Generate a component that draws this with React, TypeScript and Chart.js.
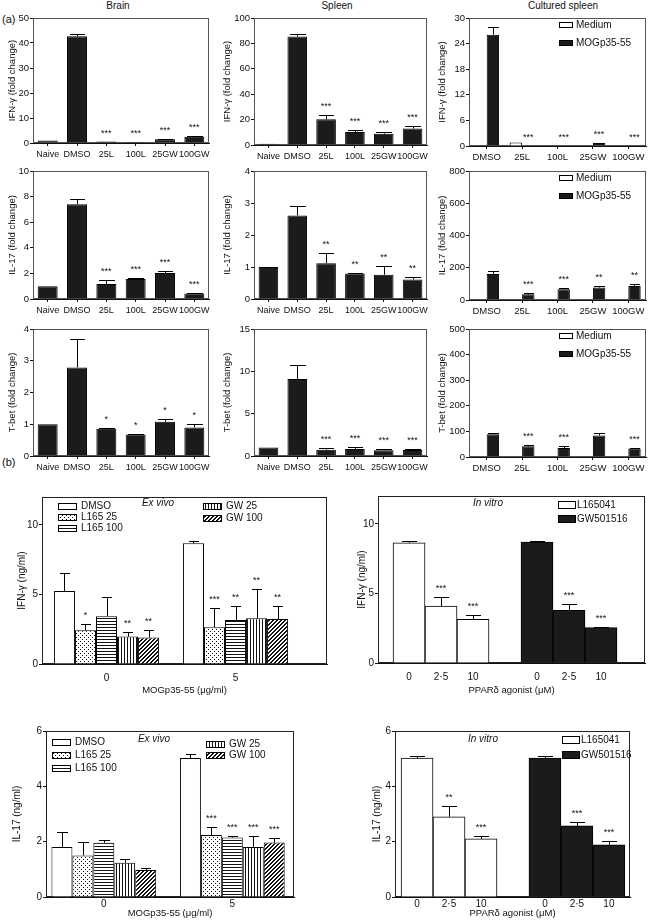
import React, { useEffect, useRef } from "react";
import { Chart, registerables } from "chart.js";

Chart.register(...registerables);

const FONT = "'Liberation Sans', Arial, Helvetica, sans-serif";
Chart.defaults.font.family = FONT;
Chart.defaults.color = "#111";

// ---------------- DATA ----------------
const tissueGroups = ["Naive", "DMSO", "25L", "100L", "25GW", "100GW"];
const culturedGroups = ["DMSO", "25L", "100L", "25GW", "100GW"];

// Brain
const brainIfn = [1, 42.7, 0.6, 0.4, 1.5, 2.5];
const brainIfnErr = [0, 0.7, 0, 0, 0.3, 0.5];
const brainIfnSig = ["", "", "***", "***", "***", "***"];
const brainIl17 = [1, 7.4, 1.17, 1.56, 2.03, 0.42];
const brainIl17Err = [0, 0.4, 0.28, 0.08, 0.15, 0.06];
const brainIl17Sig = ["", "", "***", "***", "***", "***"];
const brainTbet = [1, 2.79, 0.855, 0.675, 1.08, 0.9];
const brainTbetErr = [0, 0.9, 0.03, 0.03, 0.1, 0.11];
const brainTbetSig = ["", "", "*", "*", "*", "*"];

// Spleen
const spleenIfn = [1, 85.5, 20.3, 10.3, 8.9, 12.9];
const spleenIfnErr = [0, 1.8, 3.4, 1.5, 1.6, 2.1];
const spleenIfnSig = ["", "", "***", "***", "***", "***"];
const spleenIl17 = [1, 2.61, 1.12, 0.8, 0.76, 0.61];
const spleenIl17Err = [0, 0.3, 0.33, 0.02, 0.28, 0.08];
const spleenIl17Sig = ["", "", "**", "**", "**", "**"];
const spleenTbet = [1, 9.1, 0.75, 0.83, 0.67, 0.71];
const spleenTbetErr = [0, 1.66, 0.2, 0.24, 0.16, 0.16];
const spleenTbetSig = ["", "", "***", "***", "***", "***"];

// Cultured spleen
const cultIfnMedium = [0, 0.8, 0, 0, 0];
const cultIfnMog = [26.1, 0, 0, 0.7, 0];
const cultIfnMogErr = [1.8, 0, 0, 0.1, 0];
const cultIfnSig = ["", "***", "***", "***", "***"];
const cultIl17Medium = [0, 0, 0, 0, 0];
const cultIl17Mog = [161, 35, 66, 78, 87];
const cultIl17MogErr = [21, 10, 10, 8, 10];
const cultIl17Sig = ["", "***", "***", "**", "**"];
const cultTbetMedium = [0, 0, 0, 0, 0];
const cultTbetMog = [89, 42, 35, 84, 33];
const cultTbetMogErr = [3, 3, 8, 8, 2];
const cultTbetSig = ["", "***", "***", "", "***"];

// (b) ex vivo, MOGp35-55 doses
const mogDoses = ["0", "5"];
const exVivoSeries = ["DMSO", "L165 25", "L165 100", "GW 25", "GW 100"];
const exIfnDmso = [5.25, 8.67];
const exIfnDmsoErr = [1.3, 0.17];
const exIfnDmsoSig = ["", ""];
const exIfnL25 = [2.42, 2.64];
const exIfnL25Err = [0.45, 1.4];
const exIfnL25Sig = ["*", "***"];
const exIfnL100 = [3.44, 3.16];
const exIfnL100Err = [1.38, 1.0];
const exIfnL100Sig = ["", "**"];
const exIfnG25 = [1.97, 3.28];
const exIfnG25Err = [0.36, 2.14];
const exIfnG25Sig = ["**", "**"];
const exIfnG100 = [1.9, 3.23];
const exIfnG100Err = [0.52, 0.93];
const exIfnG100Sig = ["**", "**"];

const exIl17Dmso = [1.81, 5.02];
const exIl17DmsoErr = [0.55, 0.15];
const exIl17DmsoSig = ["", ""];
const exIl17L25 = [1.5, 2.24];
const exIl17L25Err = [0.48, 0.3];
const exIl17L25Sig = ["", "***"];
const exIl17L100 = [1.96, 2.15];
const exIl17L100Err = [0.11, 0.07];
const exIl17L100Sig = ["", "***"];
const exIl17G25 = [1.24, 1.81];
const exIl17G25Err = [0.14, 0.4];
const exIl17G25Sig = ["", "***"];
const exIl17G100 = [0.98, 1.97];
const exIl17G100Err = [0.08, 0.16];
const exIl17G100Sig = ["", "***"];

// (b) in vitro, PPARδ agonist doses
const agonistDoses = ["0", "2·5", "10"];
const agonistSeries = ["L165041", "GW501516"];
const viIfnL = [8.64, 4.09, 3.13];
const viIfnLErr = [0.1, 0.62, 0.34];
const viIfnLSig = ["", "***", "***"];
const viIfnG = [8.68, 3.78, 2.54];
const viIfnGErr = [0.08, 0.48, 0.05];
const viIfnGSig = ["", "***", "***"];
const viIl17L = [5.02, 2.9, 2.1];
const viIl17LErr = [0.08, 0.4, 0.12];
const viIl17LSig = ["", "**", "***"];
const viIl17G = [5.02, 2.57, 1.89];
const viIl17GErr = [0.08, 0.14, 0.14];
const viIl17GSig = ["", "***", "***"];

// ---------------- STYLE HELPERS ----------------
const BLACK = "#1b1b1b";
const INK = "#111";

type Frame = { l: number; t: number; r: number; b: number };
type Layout = {
  frame: Frame;
  yTitleX: number;
  titleSize: number;
  xAxisH: number;
  padTop: number;
  padRight: number;
  xLabelPad?: number;
};

function geometry(L: Layout) {
  const lh = L.titleSize * 1.2;
  const left = Math.round(L.yTitleX - lh / 2);
  const top = L.frame.t - L.padTop;
  return {
    left,
    top,
    width: L.frame.r + L.padRight - left,
    height: L.frame.b + L.xAxisH - top,
    axisW: L.frame.l - left,
  };
}

function makePattern(kind: string): any {
  const c = document.createElement("canvas");
  const n = kind === "dots" ? 4 : kind === "diag" ? 4 : 3;
  c.width = n;
  c.height = n;
  const g = c.getContext("2d") as CanvasRenderingContext2D;
  g.fillStyle = "#fff";
  g.fillRect(0, 0, n, n);
  g.fillStyle = INK;
  if (kind === "dots") {
    g.fillRect(0, 0, 1, 1);
    g.fillRect(2, 2, 1, 1);
  } else if (kind === "hlines") {
    g.fillRect(0, 0, n, 1);
  } else if (kind === "vlines") {
    g.fillRect(0, 0, 1, n);
  } else if (kind === "diag") {
    for (let i = 0; i < n; i++) {
      g.fillRect(i, n - 1 - i, 1, 1);
      g.fillRect((i + 1) % n, n - 1 - i, 1, 1);
    }
  }
  return g.createPattern(c, "repeat");
}

type LegendItem = { label: string; fill: any; dx: number; dy: number };
type DecorSpec = {
  frameColor: string;
  capRatio: number;
  starFont: number;
  starGap: number;
  legend?: { items: LegendItem[]; boxW: number; boxH: number; gap: number; font: number };
  note?: { text: string; dx: number; dy: number; font: number };
};

function decor(spec: DecorSpec) {
  return {
    id: "decor",
    beforeDatasetsDraw(chart: any) {
      const { ctx, chartArea: a } = chart;
      ctx.save();
      ctx.strokeStyle = spec.frameColor;
      ctx.lineWidth = 1;
      ctx.strokeRect(
        Math.round(a.left) + 0.5,
        Math.round(a.top) + 0.5,
        Math.round(a.right - a.left) - 1,
        Math.round(a.bottom - a.top) - 1
      );
      ctx.restore();
    },
    afterDatasetsDraw(chart: any) {
      const { ctx, chartArea: a, scales } = chart;
      const ys = scales.y;
      ctx.save();
      ctx.strokeStyle = "#000";
      ctx.fillStyle = INK;
      ctx.lineWidth = 1;
      chart.data.datasets.forEach((ds: any, di: number) => {
        const meta = chart.getDatasetMeta(di);
        meta.data.forEach((el: any, j: number) => {
          const v = meta.controller.getParsed(j).y;
          const e = ds.errors ? ds.errors[j] || 0 : 0;
          const topPx = ys.getPixelForValue(v + e);
          if (e > 0) {
            const x = Math.round(el.x) + 0.5;
            const yy = Math.round(topPx) + 0.5;
            const half = (el.width * spec.capRatio) / 2;
            ctx.beginPath();
            ctx.moveTo(x, el.y);
            ctx.lineTo(x, yy);
            ctx.moveTo(Math.round(el.x - half), yy);
            ctx.lineTo(Math.round(el.x + half) + 1, yy);
            ctx.stroke();
          }
          if (ds.stars && ds.stars[j]) {
            ctx.font = `${spec.starFont}px ${FONT}`;
            ctx.textAlign = "center";
            ctx.textBaseline = "alphabetic";
            ctx.fillText(ds.stars[j], el.x, topPx - spec.starGap);
          }
        });
      });
      if (spec.legend) {
        const L = spec.legend;
        ctx.font = `${L.font}px ${FONT}`;
        ctx.textAlign = "left";
        ctx.textBaseline = "middle";
        L.items.forEach((it) => {
          const bx = Math.round(a.left + it.dx);
          const by = Math.round(a.top + it.dy - L.boxH / 2);
          ctx.fillStyle = it.fill;
          ctx.fillRect(bx, by, L.boxW, L.boxH);
          ctx.strokeStyle = "#000";
          ctx.strokeRect(bx + 0.5, by + 0.5, L.boxW - 1, L.boxH - 1);
          ctx.fillStyle = INK;
          ctx.fillText(it.label, bx + L.boxW + L.gap, a.top + it.dy + 0.5);
        });
      }
      if (spec.note) {
        ctx.font = `italic ${spec.note.font}px ${FONT}`;
        ctx.textAlign = "center";
        ctx.textBaseline = "middle";
        ctx.fillStyle = INK;
        ctx.fillText(spec.note.text, a.left + spec.note.dx, a.top + spec.note.dy);
      }
      ctx.restore();
    },
  };
}

function yAxis(L: Layout, axisW: number, max: number, step: number, title: string, tickSize: number) {
  return {
    type: "linear",
    min: 0,
    max,
    ticks: { stepSize: step, includeBounds: false, font: { size: tickSize }, color: INK, padding: 1 },
    grid: { display: true, drawOnChartArea: false, drawTicks: true, tickLength: 3, color: INK },
    border: { display: true, color: INK, width: 1 },
    title: { display: true, text: title, font: { size: L.titleSize }, color: INK, padding: 0 },
    afterFit: (s: any) => {
      s.width = axisW;
      s.paddingTop = 0;
      s.paddingBottom = 0;
    },
  };
}

function categoryX(L: Layout, size: number) {
  return {
    type: "category",
    offset: true,
    ticks: { font: { size }, color: INK, padding: 3, autoSkip: false, maxRotation: 0 },
    grid: { display: true, drawOnChartArea: false, drawTicks: true, tickLength: 3, offset: false, color: INK },
    border: { display: true, color: INK, width: 1 },
    afterFit: (s: any) => {
      s.height = L.xAxisH;
      s.paddingLeft = 0;
      s.paddingRight = 0;
    },
  };
}

function linearX(L: Layout, min: number, max: number, tickValues: number[], tickLabels: string[], title: string) {
  return {
    type: "linear",
    min,
    max,
    offset: false,
    afterBuildTicks: (s: any) => {
      s.ticks = tickValues.map((v) => ({ value: v }));
    },
    ticks: {
      callback: (_v: any, i: number) => tickLabels[i],
      font: { size: 10 },
      color: INK,
      padding: L.xLabelPad ?? 8,
      autoSkip: false,
      maxRotation: 0,
    },
    grid: { display: true, drawOnChartArea: false, drawTicks: false, offset: false, color: INK },
    border: { display: true, color: INK, width: 1 },
    title: { display: true, text: title, font: { size: 9.5 }, color: INK, padding: 0 },
    afterFit: (s: any) => {
      s.height = L.xAxisH;
      s.paddingLeft = 0;
      s.paddingRight = 0;
    },
  };
}

function baseOptions(L: Layout, x: any, y: any) {
  return {
    animation: false,
    responsive: false,
    maintainAspectRatio: false,
    devicePixelRatio: 1,
    events: [],
    layout: { padding: { top: L.padTop, right: L.padRight, left: 0, bottom: 0 } },
    plugins: { legend: { display: false }, tooltip: { enabled: false }, title: { display: false } },
    scales: { x, y },
  };
}

// ---------------- CHART BUILDERS ----------------
function tissueChart(L: Layout, axisW: number, values: number[], errors: number[], stars: string[], yMax: number, yStep: number, yTitle: string) {
  return {
    type: "bar",
    data: {
      labels: tissueGroups,
      datasets: [
        {
          data: values,
          errors,
          stars,
          backgroundColor: BLACK,
          borderColor: "#000",
          borderWidth: 1,
          barPercentage: 0.68,
          categoryPercentage: 1,
        },
      ],
    },
    options: baseOptions(L, categoryX(L, 9), yAxis(L, axisW, yMax, yStep, yTitle, 9.5)),
    plugins: [decor({ frameColor: "#555", capRatio: 0.75, starFont: 9, starGap: 6 })],
  };
}

function culturedChart(L: Layout, axisW: number, medium: number[], mog: number[], errors: number[], stars: string[], yMax: number, yStep: number, yTitle: string) {
  return {
    type: "bar",
    data: {
      labels: culturedGroups,
      datasets: [
        { label: "Medium", data: medium, backgroundColor: "#fff", borderColor: "#000", borderWidth: 1, barPercentage: 1, categoryPercentage: 0.7 },
        { label: "MOGp35-55", data: mog, errors, stars, backgroundColor: BLACK, borderColor: "#000", borderWidth: 1, barPercentage: 1, categoryPercentage: 0.7 },
      ],
    },
    options: baseOptions(L, categoryX(L, 9.5), yAxis(L, axisW, yMax, yStep, yTitle, 9.5)),
    plugins: [
      decor({
        frameColor: "#555",
        capRatio: 0.75,
        starFont: 9,
        starGap: 6,
        legend: {
          items: [
            { label: "Medium", fill: "#fff", dx: 90, dy: 7 },
            { label: "MOGp35-55", fill: BLACK, dx: 90, dy: 25 },
          ],
          boxW: 14,
          boxH: 6,
          gap: 3,
          font: 10,
        },
      }),
    ],
  };
}

type Series = { values: number[]; errors: number[]; stars: string[] };

function exVivoChart(L: Layout, axisW: number, series: Series[], xRange: number[], yMax: number, yStep: number, yTitle: string, legendPos: number[][], notePos: number[]) {
  const fills = ["#fff", makePattern("dots"), makePattern("hlines"), makePattern("vlines"), makePattern("diag")];
  const pos = mogDoses.map((_, i) => i);
  return {
    type: "bar",
    data: {
      datasets: series.map((s, k) => ({
        label: exVivoSeries[k],
        data: s.values.map((v, i) => ({ x: pos[i], y: v })),
        errors: s.errors,
        stars: s.stars,
        backgroundColor: fills[k],
        borderColor: "#000",
        borderWidth: 1,
        barPercentage: 1,
        categoryPercentage: 0.815,
      })),
    },
    options: baseOptions(
      L,
      linearX(L, xRange[0], xRange[1], pos, mogDoses, "MOGp35-55 (μg/ml)"),
      yAxis(L, axisW, yMax, yStep, yTitle, 10)
    ),
    plugins: [
      decor({
        frameColor: "#222",
        capRatio: 0.45,
        starFont: 9,
        starGap: 6,
        legend: {
          items: exVivoSeries.map((name, k) => ({ label: name, fill: fills[k], dx: legendPos[k][0], dy: legendPos[k][1] })),
          boxW: 19,
          boxH: 7,
          gap: 4,
          font: 10,
        },
        note: { text: "Ex vivo", dx: notePos[0], dy: notePos[1], font: 10 },
      }),
    ],
  };
}

function inVitroChart(L: Layout, axisW: number, series: Series[], xRange: number[], yMax: number, yStep: number, yTitle: string, legendPos: number[][], notePos: number[]) {
  const fills = ["#fff", BLACK];
  const gap = agonistDoses.length + 1;
  const tickValues: number[] = [];
  const tickLabels: string[] = [];
  series.forEach((_, k) =>
    agonistDoses.forEach((d, i) => {
      tickValues.push(i + k * gap);
      tickLabels.push(d);
    })
  );
  return {
    type: "bar",
    data: {
      datasets: series.map((s, k) => ({
        label: agonistSeries[k],
        data: s.values.map((v, i) => ({ x: i + k * gap, y: v })),
        errors: s.errors,
        stars: s.stars,
        backgroundColor: fills[k],
        borderColor: "#000",
        borderWidth: 1,
        barPercentage: 1,
        categoryPercentage: 1,
        grouped: false,
      })),
    },
    options: baseOptions(
      L,
      linearX(L, xRange[0], xRange[1], tickValues, tickLabels, "PPARδ agonist (μM)"),
      yAxis(L, axisW, yMax, yStep, yTitle, 10)
    ),
    plugins: [
      decor({
        frameColor: "#222",
        capRatio: 0.45,
        starFont: 9,
        starGap: 6,
        legend: {
          items: agonistSeries.map((name, k) => ({ label: name, fill: fills[k], dx: legendPos[k][0], dy: legendPos[k][1] })),
          boxW: 18,
          boxH: 8,
          gap: 1,
          font: 10,
        },
        note: { text: "In vitro", dx: notePos[0], dy: notePos[1], font: 10 },
      }),
    ],
  };
}

// ---------------- LAYOUTS ----------------
const aL = (l: number, t: number, r: number, b: number, yTitleX: number): Layout => ({
  frame: { l, t, r, b },
  yTitleX,
  titleSize: 9.5,
  xAxisH: 18,
  padTop: 8,
  padRight: 4,
});

const LAY = {
  brainIfn: aL(33, 18, 209, 143, 13),
  spleenIfn: aL(254, 18, 427, 145, 228),
  cultIfn: aL(469, 18, 646, 146, 443),
  brainIl17: aL(33, 171, 209, 299, 13),
  spleenIl17: aL(254, 171, 427, 299, 228),
  cultIl17: aL(469, 171, 646, 300, 443),
  brainTbet: aL(33, 329, 209, 456, 13),
  spleenTbet: aL(254, 329, 427, 456, 228),
  cultTbet: aL(469, 329, 646, 457, 443),
  exIfn: { frame: { l: 42, t: 497, r: 327, b: 664 }, yTitleX: 22, titleSize: 10, xAxisH: 32, padTop: 8, padRight: 3, xLabelPad: 8 },
  viIfn: { frame: { l: 378, t: 496, r: 645, b: 663 }, yTitleX: 362, titleSize: 10, xAxisH: 33, padTop: 8, padRight: 3, xLabelPad: 8 },
  exIl17: { frame: { l: 46, t: 731, r: 294, b: 897 }, yTitleX: 17, titleSize: 10, xAxisH: 22, padTop: 8, padRight: 3, xLabelPad: 1 },
  viIl17: { frame: { l: 395, t: 731, r: 630, b: 897 }, yTitleX: 377, titleSize: 10, xAxisH: 22, padTop: 8, padRight: 3, xLabelPad: 1 },
};

// ---------------- COMPONENTS ----------------
function Panel({ layout, build }: { layout: Layout; build: (L: Layout, axisW: number) => any }) {
  const ref = useRef<HTMLCanvasElement | null>(null);
  const g = geometry(layout);
  useEffect(() => {
    if (!ref.current) return;
    const chart = new Chart(ref.current, build(layout, g.axisW) as any);
    return () => chart.destroy();
  }, []);
  return (
    <canvas
      ref={ref}
      width={g.width}
      height={g.height}
      style={{ position: "absolute", left: g.left, top: g.top, width: g.width, height: g.height }}
    />
  );
}

function Text({ x, y, size, children, anchor = "middle" }: any) {
  const tx = anchor === "middle" ? "-50%" : anchor === "end" ? "-100%" : "0";
  return (
    <div
      style={{
        position: "absolute",
        left: x,
        top: y,
        transform: `translate(${tx}, -50%)`,
        fontSize: size,
        lineHeight: 1,
        whiteSpace: "nowrap",
      }}
    >
      {children}
    </div>
  );
}

const ser = (values: number[], errors: number[], stars: string[]): Series => ({ values, errors, stars });

export default function App() {
  return (
    <div
      style={{
        position: "absolute",
        left: 0,
        top: 0,
        width: 650,
        height: 920,
        background: "#fff",
        fontFamily: FONT,
        color: INK,
        overflow: "hidden",
      }}
    >
      <Text x={2} y={19} size={11} anchor="start">(a)</Text>
      <Text x={118} y={6} size={10}>Brain</Text>
      <Text x={337} y={6} size={10}>Spleen</Text>
      <Text x={563} y={6} size={10}>Cultured spleen</Text>
      <Text x={2} y={462} size={11} anchor="start">(b)</Text>

      <Panel layout={LAY.brainIfn} build={(L, w) => tissueChart(L, w, brainIfn, brainIfnErr, brainIfnSig, 50, 10, "IFN-γ (fold change)")} />
      <Panel layout={LAY.spleenIfn} build={(L, w) => tissueChart(L, w, spleenIfn, spleenIfnErr, spleenIfnSig, 100, 20, "IFN-γ (fold change)")} />
      <Panel layout={LAY.cultIfn} build={(L, w) => culturedChart(L, w, cultIfnMedium, cultIfnMog, cultIfnMogErr, cultIfnSig, 30, 6, "IFN-γ (fold change)")} />

      <Panel layout={LAY.brainIl17} build={(L, w) => tissueChart(L, w, brainIl17, brainIl17Err, brainIl17Sig, 10, 2, "IL-17 (fold change)")} />
      <Panel layout={LAY.spleenIl17} build={(L, w) => tissueChart(L, w, spleenIl17, spleenIl17Err, spleenIl17Sig, 4, 1, "IL-17 (fold change)")} />
      <Panel layout={LAY.cultIl17} build={(L, w) => culturedChart(L, w, cultIl17Medium, cultIl17Mog, cultIl17MogErr, cultIl17Sig, 800, 200, "IL-17 (fold change)")} />

      <Panel layout={LAY.brainTbet} build={(L, w) => tissueChart(L, w, brainTbet, brainTbetErr, brainTbetSig, 4, 1, "T-bet (fold change)")} />
      <Panel layout={LAY.spleenTbet} build={(L, w) => tissueChart(L, w, spleenTbet, spleenTbetErr, spleenTbetSig, 15, 5, "T-bet (fold change)")} />
      <Panel layout={LAY.cultTbet} build={(L, w) => culturedChart(L, w, cultTbetMedium, cultTbetMog, cultTbetMogErr, cultTbetSig, 500, 100, "T-bet (fold change)")} />

      <Panel
        layout={LAY.exIfn}
        build={(L, w) =>
          exVivoChart(
            L,
            w,
            [
              ser(exIfnDmso, exIfnDmsoErr, exIfnDmsoSig),
              ser(exIfnL25, exIfnL25Err, exIfnL25Sig),
              ser(exIfnL100, exIfnL100Err, exIfnL100Sig),
              ser(exIfnG25, exIfnG25Err, exIfnG25Sig),
              ser(exIfnG100, exIfnG100Err, exIfnG100Sig),
            ],
            [-0.5, 1.709],
            12,
            5,
            "IFN-γ (ng/ml)",
            [[16, 9], [16, 20], [16, 31], [161, 9], [161, 21]],
            [116, 6]
          )
        }
      />
      <Panel
        layout={LAY.viIfn}
        build={(L, w) =>
          inVitroChart(
            L,
            w,
            [ser(viIfnL, viIfnLErr, viIfnLSig), ser(viIfnG, viIfnGErr, viIfnGSig)],
            [-0.97, 7.375],
            12,
            5,
            "IFN-γ (ng/ml)",
            [[180, 9], [180, 23]],
            [110, 7]
          )
        }
      />
      <Panel
        layout={LAY.exIl17}
        build={(L, w) =>
          exVivoChart(
            L,
            w,
            [
              ser(exIl17Dmso, exIl17DmsoErr, exIl17DmsoSig),
              ser(exIl17L25, exIl17L25Err, exIl17L25Sig),
              ser(exIl17L100, exIl17L100Err, exIl17L100Sig),
              ser(exIl17G25, exIl17G25Err, exIl17G25Sig),
              ser(exIl17G100, exIl17G100Err, exIl17G100Sig),
            ],
            [-0.45, 1.48],
            6,
            2,
            "IL-17 (ng/ml)",
            [[6, 11], [6, 24], [6, 37], [160, 13], [160, 24]],
            [108, 8]
          )
        }
      />
      <Panel
        layout={LAY.viIl17}
        build={(L, w) =>
          inVitroChart(
            L,
            w,
            [ser(viIl17L, viIl17LErr, viIl17LSig), ser(viIl17G, viIl17GErr, viIl17GSig)],
            [-0.69, 6.66],
            6,
            2,
            "IL-17 (ng/ml)",
            [[167, 9], [167, 24]],
            [88, 8]
          )
        }
      />
    </div>
  );
}
